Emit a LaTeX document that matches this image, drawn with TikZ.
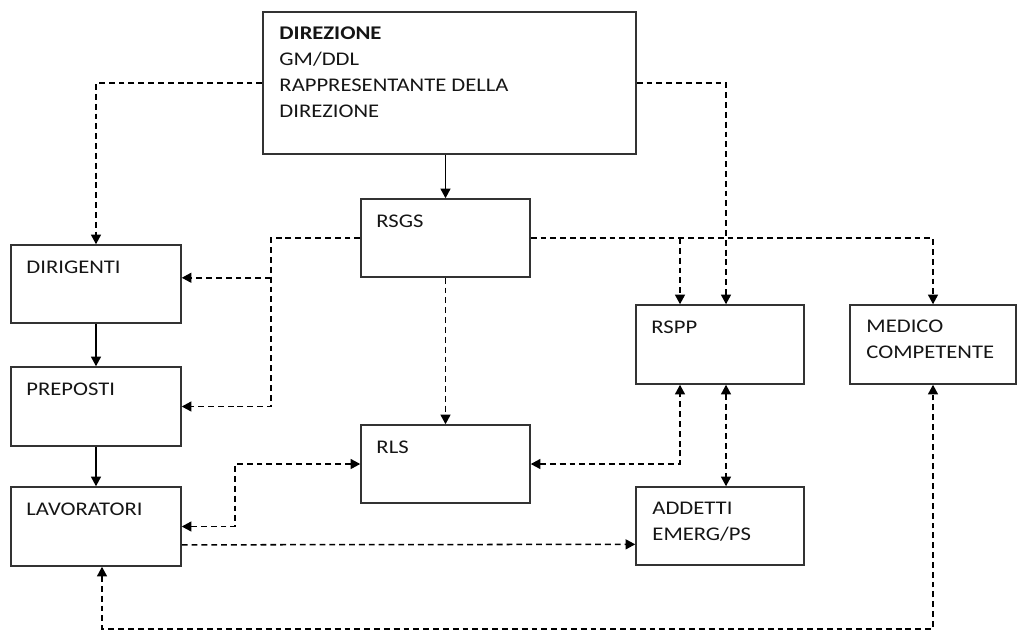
\documentclass[tikz,border=0pt]{standalone}
\usepackage{fontspec}
\setmainfont[FakeStretch=1.17]{Carlito}
\usetikzlibrary{arrows.meta}
\definecolor{boxline}{HTML}{333333}
\definecolor{txt}{HTML}{151515}
\begin{document}
\begin{tikzpicture}[x=0.03cm,y=-0.03cm,
    box/.style={draw=boxline, line width=1.3pt, inner sep=0pt},
    lbl/.style={anchor=north west, inner sep=0pt, align=left, text=txt,
        font=\fontsize{16.5pt}{22.2pt}\selectfont},
    link/.style={line width=1.3pt, dash pattern=on 5pt off 3.4pt},
    solidlink/.style={line width=1.3pt},
    >={Triangle[length=0.29cm,width=0.3cm]}]
    \useasboundingbox (0,0) rectangle (1019,631);
    % boxes
    \node[box, minimum width=11.19cm, minimum height=4.26cm] (dir) at (449.5,83) {};
    \node[box, minimum width=5.07cm, minimum height=2.34cm] (rsgs) at (445.5,238) {};
    \node[box, minimum width=5.1cm, minimum height=2.34cm] (dirig) at (96,284) {};
    \node[box, minimum width=5.1cm, minimum height=2.37cm] (prep) at (96,406.5) {};
    \node[box, minimum width=5.1cm, minimum height=2.37cm] (lav) at (96,526.5) {};
    \node[box, minimum width=5.07cm, minimum height=2.34cm] (rls) at (445.5,464) {};
    \node[box, minimum width=5.04cm, minimum height=2.37cm] (rspp) at (720,344.5) {};
    \node[box, minimum width=4.98cm, minimum height=2.37cm] (med) at (933,344.5) {};
    \node[box, minimum width=5.04cm, minimum height=2.34cm] (add) at (720,526) {};
    % texts
    \node[lbl] (dir-t) at ([shift={(17,15)}]dir.north west)
        {\textbf{DIREZIONE}\\GM/DDL\\RAPPRESENTANTE DELLA\\DIREZIONE};
    \node[lbl] (rsgs-t) at ([shift={(16,16)}]rsgs.north west) {RSGS};
    \node[lbl] (dirig-t) at ([shift={(16,16)}]dirig.north west) {DIRIGENTI};
    \node[lbl] (prep-t) at ([shift={(16,16)}]prep.north west) {PREPOSTI};
    \node[lbl] (lav-t) at ([shift={(16,16)}]lav.north west) {LAVORATORI};
    \node[lbl] (rls-t) at ([shift={(16,16)}]rls.north west) {RLS};
    \node[lbl] (rspp-t) at ([shift={(16,16)}]rspp.north west) {RSPP};
    \node[lbl] (med-t) at ([shift={(17,15)}]med.north west) {MEDICO\\COMPETENTE};
    \node[lbl] (add-t) at ([shift={(17,16)}]add.north west) {ADDETTI\\EMERG/PS};
    % helper points
    \coordinate (sx) at (271,0);
    \coordinate (lx) at (235,0);
    \coordinate (rx) at (680,0);
    \coordinate (ex) at (726,0);
    % solid links
    \draw[solidlink,->] (rsgs.north |- dir.south) -- (rsgs.north);
    \draw[solidlink,->] (dirig.south) -- (prep.north);
    \draw[solidlink,->] (prep.south) -- (lav.north);
    % dashed links
    \draw[link,->] (dir.west) -| (dirig.north);
    \draw[link,->] (dir.east) -| (ex |- rspp.north);
    \draw[link,->] (rsgs.west) -| (sx |- prep.east) -- (prep.east);
    \draw[link,->] (sx |- rsgs.south) -- (dirig.east |- rsgs.south);
    \draw[link,->] (rsgs.east) -| (med.north);
    \draw[link,->] (rx |- rsgs.east) -- (rx |- rspp.north);
    \draw[link,->] (rsgs.south) -- (rls.north);
    \draw[link,<->] (rls.west) -| (lx |- rls.south) |- (lav.east);
    \draw[link,<->] (rls.east) -| (rx |- rspp.south);
    \draw[link,<->] (ex |- rspp.south) -- (ex |- add.north);
    \draw[link,->] ([yshift=-0.55cm]lav.east) -- ([yshift=-0.55cm]add.west);
    \draw[link,<->] ([xshift=0.18cm]lav.south) -- ++(0,62) -| (med.south);
\end{tikzpicture}
\end{document}
